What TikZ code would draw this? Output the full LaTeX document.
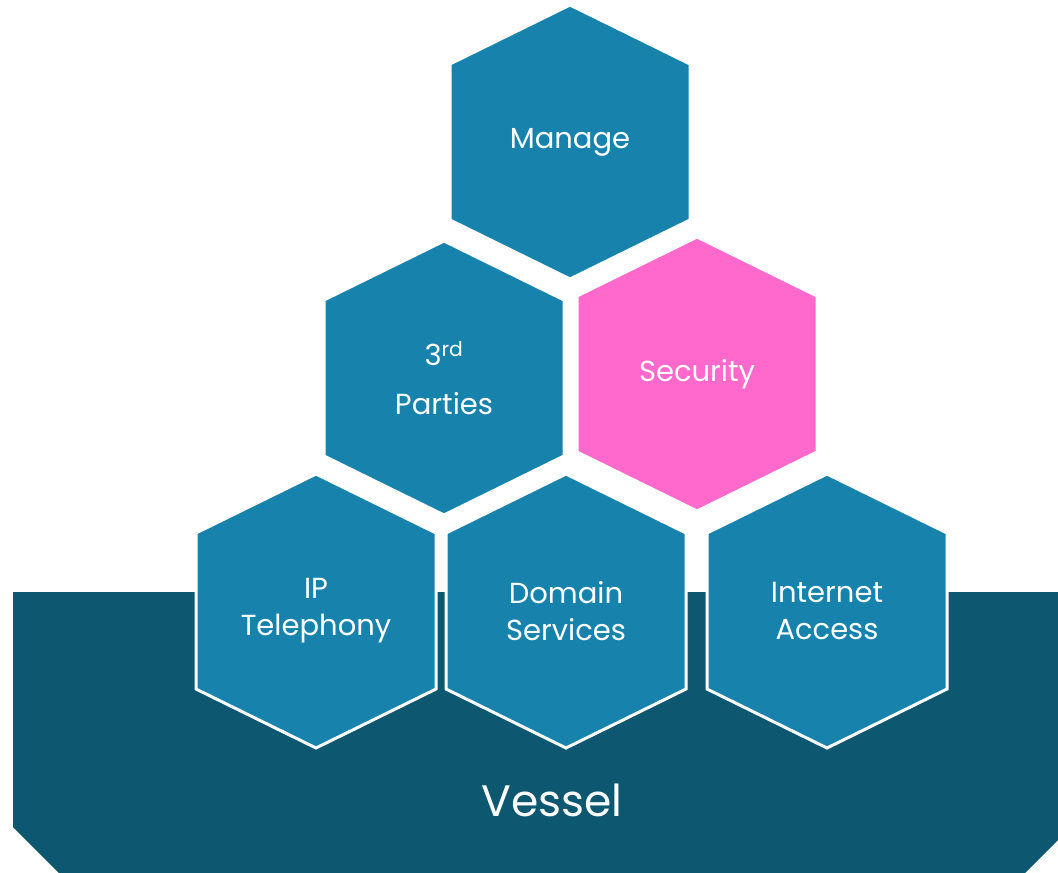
\documentclass[tikz,border=0pt]{standalone}
\usepackage{fontspec}
\setmainfont{Poppins}

\definecolor{hexblue}{RGB}{23,131,173}
\definecolor{vesselblue}{RGB}{14,87,113}
\definecolor{hexpink}{RGB}{255,105,204}

\tikzset{
  hexcell/.style={fill=hexblue, draw=white, line width=3pt, line join=miter},
  hextext/.style={text=white, align=center, inner sep=0pt, font=\fontsize{29}{37}\selectfont},
  hexpinkfill/.style={fill=hexpink},
}

% hexagon cell: name, centre, extra style, text
\newcommand{\hexagon}[4]{%
  \filldraw[hexcell, #3, shift={#2}] (0,-137) -- (120,-78) -- (120,78) -- (0,137)
    -- (-120,78) -- (-120,-78) -- cycle;
  \node[hextext] (#1) at #2 {#4};%
}

\begin{document}
\begin{tikzpicture}[x=1pt,y=-1pt]
  \useasboundingbox (0,0) rectangle (1058,873);
  \clip (0,0) rectangle (1058,873);

  % Define the base
  \fill[vesselblue] (13,592) -- (13,827) -- (66,880) -- (1018,880) -- (1071,827) -- (1071,592) -- cycle;
  \node[text=white, font=\fontsize{44}{50}\selectfont] (vessel) at (552,800) {Vessel};

  % Define nodes
  \hexagon{manage}{(570,142)}{}{Manage}
  \hexagon{parties}{(444,378)}{}{3\textsuperscript{rd}\\[12pt]Parties}
  \hexagon{security}{(697,374)}{hexpinkfill}{Security}
  \hexagon{phone}{(316,611)}{}{IP\\Telephony}
  \hexagon{domain}{(566,611)}{}{Domain\\Services}
  \hexagon{internet}{(827,611)}{}{Internet\\Access}

\end{tikzpicture}
\end{document}
